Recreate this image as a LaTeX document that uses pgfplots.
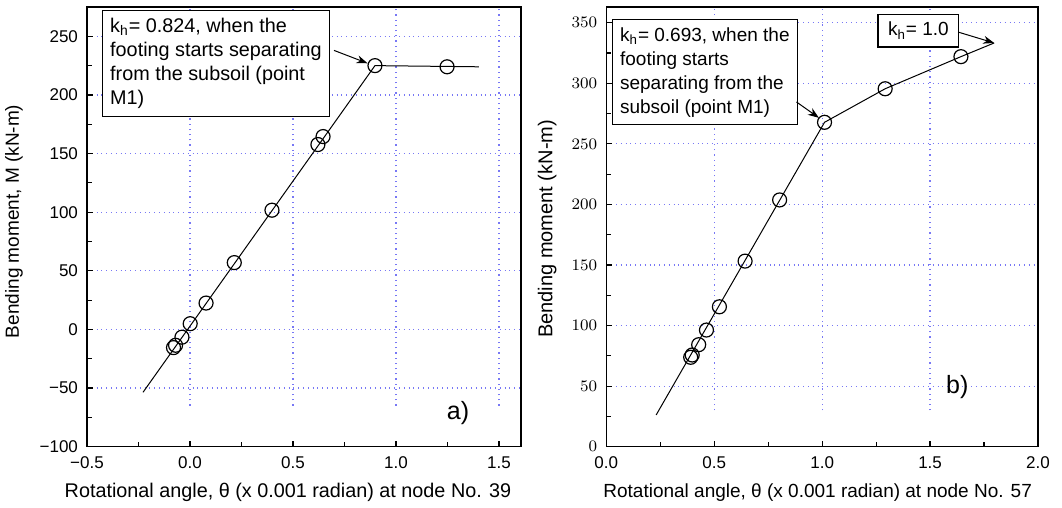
\documentclass[border=0pt]{standalone}
\usepackage{fontspec}
\setmainfont{Liberation Sans}
\usepackage{pgfplots}
\pgfplotsset{compat=1.18}
\usetikzlibrary{arrows.meta}

\definecolor{gridblue}{RGB}{120,120,245}

\pgfplotsset{
  mmplot/.style={
    scale only axis,
    axis line style={line width=0.8pt},
    tick align=inside, xtick pos=bottom, ytick pos=left,
    major tick length=3pt, minor tick length=2.5pt,
    every tick/.style={black, line width=0.6pt},
    minor x tick num=1, minor y tick num=1,
    ymajorgrids=true,
    major grid style={gridblue, dotted, line width=0.6pt},
    ticklabel style={font=\fontsize{8.5}{10}\selectfont},
    xticklabel style={yshift=-1.5pt},
    yticklabel style={xshift=-1pt},
    clip=false,
  },
  curve/.style={black, line width=0.5pt, no markers},
  pts/.style={only marks, mark=o, mark size=3.5pt, mark options={fill=white, draw=black, line width=0.6pt}},
}
\tikzset{
  note/.style={draw=black, fill=white, line width=0.6pt, align=left, inner sep=3.8pt,
    font=\fontsize{9.5}{12}\selectfont},
}

\begin{document}
\begin{tikzpicture}
\useasboundingbox (0,0) rectangle (531pt,254pt);

% a) node 39
\begin{axis}[mmplot, at={(43.5pt,30.65pt)}, anchor=south west,
  width=217pt, height=219.85pt,
  xmin=-0.5, xmax=1.607, ymin=-100, ymax=275,
  xtick={-0.5,0,0.5,1,1.5}, xticklabels={−0.5,0.0,0.5,1.0,1.5},
  ytick={-100,-50,0,50,100,150,200,250},
  yticklabels={−100,−50,0,50,100,150,200,250},
  xlabel={Rotational angle, θ (x 0.001 radian) at node No. 39},
  ylabel={Bending moment, M (kN-m)},
  every axis x label/.style={at={(axis description cs:0.5,0)}, yshift=-23pt, xshift=-8pt, anchor=center,
    font=\fontsize{9.9}{11}\selectfont},
  every axis y label/.style={at={(axis description cs:0,0.5)}, xshift=-36.5pt, yshift=2.75pt, rotate=90, anchor=center,
    font=\fontsize{9.5}{11}\selectfont},
]
\pgfplotsinvokeforeach{0,0.5,1.0,1.5}{
  \draw[gridblue, dotted, line width=0.6pt] (axis cs:#1,-65) -- (axis cs:#1,275);
}
\addplot[curve] coordinates {(-0.228,-53.6) (0.898,225) (1.403,224)};
\addplot[pts] coordinates {
  (-0.080,-15.5) (-0.070,-13.5) (-0.039,-6.6) (0.001,4.9) (0.078,22.5)
  (0.215,57) (0.398,101.7) (0.621,157.7) (0.646,164.5) (0.898,225) (1.248,224)
};
\node[note, anchor=north west, font=\fontsize{9.9}{12}\selectfont] (n1) at (axis cs:-0.427,272.2)
  {k\textsubscript{h}= 0.824, when the\\footing starts separating\\from the subsoil (point\\M1)};
\draw[-{Stealth[length=5.5pt,width=4pt]}, line width=0.5pt] (axis cs:0.699,238) -- (axis cs:0.862,227);
\node[font=\fontsize{12.5}{14}\selectfont] at (axis cs:1.301,-71) {a)};
\end{axis}

% b) node 57
\begin{axis}[mmplot, at={(303.15pt,30.65pt)}, anchor=south west,
  width=215.85pt, height=219.85pt,
  xmin=0, xmax=2, ymin=0, ymax=363,
  xtick={0,0.5,1,1.5,2}, xticklabels={0.0,0.5,1.0,1.5,2.0},
  ytick={0,50,100,150,200,250,300,350},
  xlabel={Rotational angle, θ (x 0.001 radian) at node No. 57},
  ylabel={Bending moment (kN-m)},
  every axis x label/.style={at={(axis description cs:0.5,0)}, yshift=-23pt, xshift=-2.25pt, anchor=center,
    font=\fontsize{9.5}{11}\selectfont},
  every axis y label/.style={at={(axis description cs:0,0.5)}, xshift=-29.5pt, yshift=-1pt, rotate=90, anchor=center,
    font=\fontsize{10}{11}\selectfont},
]
\pgfplotsinvokeforeach{0.5,1.0,1.5}{
  \draw[gridblue, dotted, line width=0.6pt] (axis cs:#1,30) -- (axis cs:#1,363);
}
\addplot[curve] coordinates {(0.231,26.2) (1.011,267.8) (1.292,295.5) (1.643,322) (1.797,333.3)};
\addplot[pts] coordinates {
  (0.391,73.8) (0.398,75.7) (0.428,84.2) (0.464,96.3) (0.524,115.5)
  (0.643,153.2) (0.803,203.7) (1.011,267.8) (1.292,295.5) (1.643,322)
};
\node[note, anchor=north west] at (axis cs:0.026,353)
  {k\textsubscript{h}= 0.693, when the\\footing starts\\separating from the\\subsoil (point M1)};
\draw[-{Stealth[length=5.5pt,width=4pt]}, line width=0.5pt] (axis cs:0.881,284.6) -- (axis cs:0.985,271.5);
\node[note, anchor=north west, inner xsep=5pt] at (axis cs:1.256,357.2) {k\textsubscript{h}= 1.0};
\draw[-{Stealth[length=5.5pt,width=4pt]}, line width=0.5pt] (axis cs:1.630,342.3) -- (axis cs:1.797,333.3);
\node[font=\fontsize{12.5}{14}\selectfont] at (axis cs:1.626,49.3) {b)};
\end{axis}
\end{tikzpicture}
\end{document}
